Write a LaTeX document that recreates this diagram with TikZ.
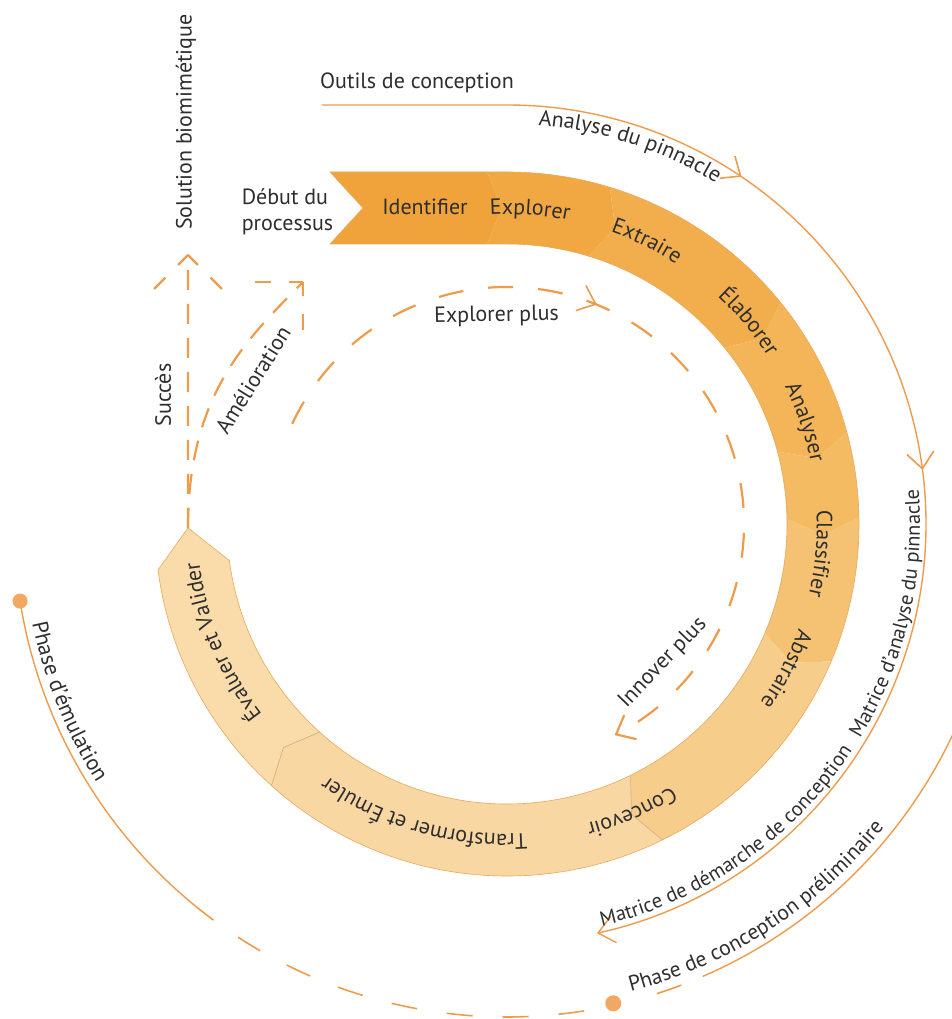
\documentclass[tikz,border=0pt]{standalone}
\usepackage{fontspec}
\setmainfont{PT Sans}
\usetikzlibrary{arrows.meta,decorations.markings,decorations.text}

\definecolor{lineor}{HTML}{EE9C4C}
\definecolor{dotor}{HTML}{F2A862}
\definecolor{txt}{HTML}{2E2E2E}
\definecolor{edgeor}{HTML}{E8A85A}
\definecolor{seamline}{HTML}{D2B184}
\definecolor{cA}{HTML}{F0A23B}
\definecolor{cB}{HTML}{F1A842}
\definecolor{cC}{HTML}{F2AE4C}
\definecolor{cD}{HTML}{F3B557}
\definecolor{cE}{HTML}{F4BB63}
\definecolor{cF}{HTML}{F5C273}
\definecolor{cG}{HTML}{F7CD8C}
\definecolor{cH}{HTML}{F9D7A2}
\definecolor{cI}{HTML}{FADCAA}

\newcommand\lblfont{\fontsize{22}{26}\selectfont}

% one chevron-shaped piece of the process band, from tip angle #2 to tip angle #3
\newcommand\bandseg[3]{%
  \fill[#1] ({#2+3}:352) arc[start angle={#2+3},end angle={#3+3},radius=352]
    -- (#3:316) -- ({#3+3}:280) arc[start angle={#3+3},end angle={#2+3},radius=280]
    -- (#2:316) -- cycle;}

% text set along an arc: [size], radius, start angle, end angle, text
\newcommand\arclabel[5][22]{%
  \path[decorate,decoration={text along path,text align=center,
    text={|\fontsize{#1}{#1}\selectfont\color{txt}|#5}}] (#3:#2) arc[start angle=#3,end angle=#4,radius=#2];}

\tikzset{
  flow/.style={draw=lineor, line width=1.4pt},
  dashflow/.style={draw=lineor, line width=2.2pt, dash pattern=on 20pt off 14pt},
  loopflow/.style={draw=lineor, line width=2.2pt, dash pattern=on 25pt off 25pt},
  dashhead/.style={draw=lineor, line width=2.2pt, dash pattern=on 14pt off 18pt on 16pt off 60pt},
  barb/.style={-{Straight Barb[length=16pt,width=27pt]}},
  midbarb/.style={postaction={decorate,decoration={markings,
    mark=at position #1 with {\arrow[lineor,line width=1.6pt]{Straight Barb[length=16pt,width=27pt]}}}}},
  lbl/.style={text=txt, font=\lblfont, inner sep=0pt},
}

\begin{document}
\begin{tikzpicture}[x=1pt,y=1pt]
\useasboundingbox (-507,-495) rectangle (445,524);
\fill[white] (-507,-495) rectangle (445,524);

% ---------- process band ----------
\fill[cA] (-177,352) -- (-20,352) -- (-5,316) -- (-20,280) -- (-177,280) -- (-144,316) -- cycle;
\fill[cB] (-20,352) -- (0,352) arc[start angle=90,end angle=73,radius=352] -- (70:316)
  -- (73:280) arc[start angle=73,end angle=90,radius=280] -- (-20,280) -- (-5,316) -- cycle;
\bandseg{cC}{70}{36}
\bandseg{cD}{36}{12}
\bandseg{cE}{12}{-2}
\bandseg{cF}{-2}{-26}
\bandseg{cG}{-26}{-66.8}
\bandseg{cH}{-66.8}{-135}
\fill[cI] (-132:352) arc[start angle=-132,end angle=-172.5,radius=352] -- (-179.3:319)
  -- (-172.5:280) arc[start angle=-172.5,end angle=-132,radius=280] -- (-135:316) -- cycle;
\draw[seamline, line width=0.7pt] (-63.8:352) -- (-66.8:316) -- (-63.8:280);
\draw[seamline, line width=0.7pt] (-132:352) -- (-135:316) -- (-132:280);
\draw[edgeor, line width=0.6pt] (-177,352) -- (0,352) arc[start angle=90,end angle=-172.5,radius=352]
  -- (-179.3:319) -- (-172.5:280) arc[start angle=-172.5,end angle=90,radius=280]
  -- (-177,280) -- (-144,316) -- cycle;

% ---------- step labels ----------
\node[lbl, anchor=base] (identifier) at (-82,309) {Identifier};
\arclabel{310}{115.8}{55.8}{Explorer}
\arclabel{310}{93.7}{33.7}{Extraire}
\arclabel{310}{70}{10}{Élaborer}
\arclabel{310}{48.9}{-11.1}{Analyser}
\arclabel{310}{24.6}{-35.4}{Classifier}
\arclabel{310}{2.5}{-57.5}{Abstraire}
\arclabel{310}{-36.6}{-96.6}{Concevoir}
\arclabel{310}{-55.9}{-155.9}{Transformer et Émuler}
\arclabel{310}{-107.6}{-207.6}{Évaluer et Valider}

\node[lbl, align=left] (debut) at (-219.5,312) {Début du\\processus};

% ---------- design tools track ----------
\coordinate (outilsA) at (-185,419);
\coordinate (outilsB) at (0,419);
\draw[flow, barb, midbarb=434pt, midbarb=789pt] (outilsA) -- (outilsB)
  arc[start angle=90,end angle=-77.6,radius=419];
\node[lbl, anchor=base] (outils) at (-90,435) {Outils de conception};
\arclabel{400}{102}{42}{Analyse du pinnacle}
\arclabel[20.5]{413}{-85}{-25}{Matrice de démarche de conception}
\arclabel[20.5]{413}{-43.2}{16.8}{Matrice d'analyse du pinnacle}

% ---------- phases ----------
\coordinate (emuldot) at (189:493);
\coordinate (prelimdot) at (282.5:491);
\draw[flow] (emuldot) arc[start angle=189,end angle=231,radius=493];
\draw[flow, line width=1.6pt, dash pattern=on 26pt off 30pt, dash phase=26pt]
  (282.5:493) arc[start angle=282.5,end angle=231,radius=493];
\draw[flow, line width=1.6pt] (287.7:493) arc[start angle=287.7,end angle=290.7,radius=493];
\draw[flow] (293.4:493) arc[start angle=293.4,end angle=338,radius=493];
\fill[dotor] (emuldot) circle (7.5);
\fill[dotor] (prelimdot) circle (8);
\arclabel[21.5]{484}{-87}{-27}{Phase de conception préliminaire}
\arclabel{485}{172}{232}{Phase d'émulation}

% ---------- inner loops ----------
\draw[loopflow, barb, midbarb=361pt] (155:237) arc[start angle=155,end angle=-63,radius=237];
\node[lbl, rotate=1] (explplus) at (-10.5,208) {Explorer plus};
\node[lbl, rotate=46] (innov) at (156,-139) {Innover plus};

% ---------- exits from the last step ----------
\coordinate (evtip) at (-179.3:319);
\coordinate (succtip) at (-319,269);
\coordinate (amtip) at (-204,242);
\draw[dashflow] (evtip) -- (succtip);
\draw[dashhead] (succtip) -- ++(-35,-35);
\draw[dashhead] (succtip) -- ++(35,-35);
\draw[dashflow] (evtip) .. controls (-319,130) and (-260,185) .. (amtip);
\draw[dashhead] (amtip) -- ++(-50,0);
\draw[dashhead] (amtip) -- ++(0,-50);

\node[lbl, rotate=90] (succes) at (-344,129) {Succès};
\node[lbl, rotate=58] (amelio) at (-254,144) {Amélioration};
\node[lbl, rotate=90] (solution) at (-321,402) {Solution biomimétique};
\end{tikzpicture}
\end{document}
